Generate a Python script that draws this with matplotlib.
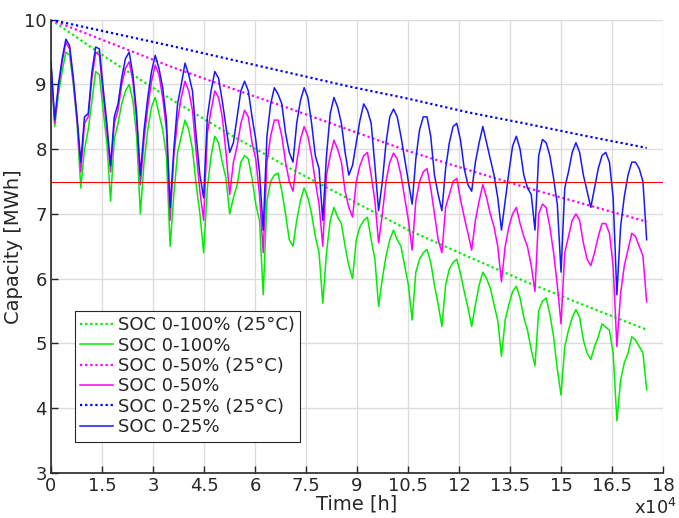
import numpy as np
import matplotlib
matplotlib.use("Agg")
import matplotlib.pyplot as plt

# ---- data (capacity in MWh, sampled every 1/8 year = 1095 h) ----
step_h = 1095
soc100 = [9.3, 8.35, 8.85, 9.2, 9.5, 9.45, 9.0, 8.4, 7.4, 8.0,
          8.3, 8.75, 9.2, 9.15, 8.6, 8.1, 7.2, 8.15, 8.4, 8.7,
          8.9, 9.0, 8.75, 8.2, 7.0, 7.8, 8.3, 8.65, 8.8, 8.55,
          8.3, 7.9, 6.5, 7.3, 7.95, 8.2, 8.45, 8.3, 8.0, 7.45,
          7.0, 6.4, 7.4, 7.9, 8.2, 8.1, 7.8, 7.55, 7.0, 7.25,
          7.45, 7.8, 7.9, 7.85, 7.55, 7.15, 6.9, 5.75, 7.2, 7.5,
          7.6, 7.63, 7.35, 7.0, 6.6, 6.5, 6.9, 7.2, 7.4, 7.25,
          7.0, 6.65, 6.4, 5.62, 6.4, 6.9, 7.1, 6.95, 6.85, 6.5,
          6.2, 6.0, 6.6, 6.8, 6.9, 6.95, 6.6, 6.3, 5.57, 6.0,
          6.35, 6.6, 6.75, 6.6, 6.5, 6.2, 5.9, 5.36, 6.1, 6.3,
          6.4, 6.45, 6.25, 5.9, 5.6, 5.26, 5.9, 6.15, 6.25, 6.3,
          6.08, 5.8, 5.55, 5.26, 5.6, 5.9, 6.1, 6.0, 5.85, 5.6,
          5.35, 4.8, 5.36, 5.6, 5.8, 5.88, 5.7, 5.4, 5.2, 4.9,
          4.65, 5.5, 5.65, 5.7, 5.45, 5.1, 4.6, 4.2, 4.95, 5.2,
          5.4, 5.52, 5.4, 5.05, 4.85, 4.75, 4.95, 5.1, 5.3, 5.25,
          5.2, 4.85, 3.8, 4.43, 4.7, 4.85, 5.1, 5.05, 4.95, 4.85,
          4.28]
soc50 = [9.3, 8.4, 8.95, 9.35, 9.65, 9.55, 9.05, 8.45, 7.65, 8.4,
         8.5, 9.1, 9.5, 9.45, 8.85, 8.3, 7.65, 8.4, 8.6, 9.0,
         9.25, 9.35, 9.05, 8.45, 7.45, 8.15, 8.65, 9.05, 9.3, 9.15,
         8.8, 8.3, 6.9, 7.9, 8.45, 8.8, 9.05, 8.9, 8.6, 7.95,
         7.35, 6.9, 8.25, 8.6, 8.9, 8.8, 8.5, 7.95, 7.3, 7.8,
         8.05, 8.4, 8.6, 8.5, 8.1, 7.85, 7.3, 6.4, 7.8, 8.2,
         8.45, 8.45, 8.2, 7.8, 7.5, 7.35, 7.8, 8.15, 8.35, 8.2,
         7.9, 7.5, 7.15, 6.5, 7.6, 7.9, 8.14, 8.0, 7.8, 7.35,
         7.1, 6.95, 7.5, 7.75, 7.9, 7.95, 7.6, 7.2, 6.55, 7.0,
         7.5, 7.8, 7.94, 7.85, 7.6, 7.25, 6.9, 6.44, 7.2, 7.5,
         7.65, 7.7, 7.4, 7.0, 6.6, 6.4, 7.1, 7.3, 7.5, 7.55,
         7.22, 6.95, 6.7, 6.44, 6.9, 7.2, 7.45, 7.25, 7.0, 6.8,
         6.5, 5.95, 6.5, 6.8, 7.0, 7.1, 6.85, 6.65, 6.49, 6.2,
         5.8, 7.0, 7.15, 7.1, 6.8, 6.4, 5.9, 5.3, 6.4, 6.65,
         6.9, 7.0, 6.9, 6.55, 6.3, 6.2, 6.4, 6.65, 6.85, 6.85,
         6.7, 6.2, 4.95, 5.77, 6.2, 6.45, 6.7, 6.65, 6.5, 6.35,
         5.64]
soc25 = [9.35, 8.45, 9.0, 9.4, 9.7, 9.6, 9.1, 8.5, 7.8, 8.5,
         8.55, 9.2, 9.58, 9.55, 8.95, 8.4, 7.75, 8.5, 8.7, 9.1,
         9.4, 9.5, 9.15, 8.55, 7.6, 8.3, 8.8, 9.2, 9.45, 9.25,
         8.95, 8.45, 7.1, 8.0, 8.7, 9.0, 9.33, 9.15, 8.9, 8.2,
         7.6, 7.25, 8.5, 8.9, 9.2, 9.1, 8.75, 8.35, 7.95, 8.1,
         8.5, 8.9, 9.05, 8.9, 8.5, 8.15, 7.65, 6.75, 8.2, 8.7,
         8.95, 8.85, 8.7, 8.25, 7.95, 7.8, 8.4, 8.75, 8.95, 8.8,
         8.4, 7.9, 7.7, 6.9, 7.9, 8.55, 8.8, 8.65, 8.4, 7.95,
         7.6, 7.75, 8.1, 8.45, 8.7, 8.6, 8.4, 7.75, 7.05, 7.5,
         8.1, 8.5, 8.62, 8.5, 8.2, 7.85, 7.5, 7.15, 7.85, 8.3,
         8.5, 8.5, 8.2, 7.6, 7.3, 7.05, 7.7, 8.1, 8.35, 8.4,
         8.14, 7.7, 7.45, 7.35, 7.8, 8.1, 8.35, 8.1, 7.85, 7.6,
         7.25, 6.75, 7.2, 7.65, 8.05, 8.2, 8.0, 7.6, 7.4, 7.3,
         6.75, 7.9, 8.15, 8.1, 7.9, 7.55, 7.15, 6.1, 7.4, 7.65,
         7.95, 8.1, 7.95, 7.6, 7.35, 7.1, 7.4, 7.7, 7.9, 7.95,
         7.8, 7.25, 5.75, 6.8, 7.27, 7.6, 7.8, 7.8, 7.7, 7.5,
         6.6]

# 25 degC reference curves, sampled every 2 years (17520 h)
ref_step_h = 17520
ref100 = [10.0, 9.37, 8.78, 8.23, 7.71, 7.23, 6.75, 6.34, 5.94, 5.57, 5.21]
ref50 = [10.0, 9.64, 9.28, 8.95, 8.63, 8.30, 7.97, 7.68, 7.40, 7.14, 6.88]
ref25 = [10.0, 9.80, 9.60, 9.39, 9.18, 8.97, 8.78, 8.57, 8.39, 8.20, 8.02]

threshold = 7.5
xtick_labels = ["0", "1.5", "3", "4.5", "6", "7.5", "9", "10.5", "12",
                "13.5", "15", "16.5", "18"]
ytick_vals = [3, 4, 5, 6, 7, 8, 9, 10]
legend_labels = ["SOC 0-100% (25°C)", "SOC 0-100%", "SOC 0-50% (25°C)",
                 "SOC 0-50%", "SOC 0-25% (25°C)", "SOC 0-25%"]

# ---- plot ----
plt.rcParams["font.family"] = ["DejaVu Sans"]
txt = "#262626"
fig = plt.figure(figsize=(6.79, 5.18), dpi=100)
ax = fig.add_axes([0.0751, 0.0875, 0.9013, 0.8743])

t = np.arange(len(soc25)) * step_h
tr = np.arange(len(ref25)) * ref_step_h

G, M, B = "#00ee00", "#ff00ff", "#0000ff"
lw_ref, lw = 1.6, 1.1
ax.plot(tr, ref100, ls=(0, (1, 1.3)), color=G, lw=lw_ref, label=legend_labels[0])
ax.plot(t, soc100, color=G, lw=lw, label=legend_labels[1])
ax.plot(tr, ref50, ls=(0, (1, 1.3)), color=M, lw=lw_ref, label=legend_labels[2])
ax.plot(t, soc50, color=M, lw=lw, label=legend_labels[3])
ax.plot(tr, ref25, ls=(0, (1, 1.3)), color=B, lw=lw_ref, label=legend_labels[4])
ax.plot(t, soc25, color="#1818ff", lw=lw, label=legend_labels[5])
ax.axhline(threshold, color="#ff0000", lw=0.8)

xt = np.arange(len(xtick_labels)) * 15000
ax.set_xticks(xt)
ax.set_xticklabels(xtick_labels)
ax.set_yticks(ytick_vals)
ax.set_xlim(0, 180000)
ax.set_ylim(3, 10)
ax.grid(True, color="#dcdcdc", lw=1.0)
ax.set_axisbelow(True)
for s in ["top", "right"]:
    ax.spines[s].set_visible(False)
for s in ["left", "bottom"]:
    ax.spines[s].set_color(txt)
    ax.spines[s].set_linewidth(1.2)
ax.tick_params(direction="in", length=5, width=1.0, colors=txt, labelsize=13,
               pad=3)
ax.set_xlabel("Time [h]", fontsize=14, color=txt, labelpad=0)
ax.set_ylabel("Capacity [MWh]", fontsize=14, color=txt, labelpad=1)
fig.text(0.997, 0.008, r"x10$^4$", ha="right", va="baseline", fontsize=13, color=txt)

leg = ax.legend(loc="upper left", bbox_to_anchor=(0.039, 0.357), borderaxespad=0,
                fontsize=13, frameon=True, fancybox=False, framealpha=1,
                edgecolor="#262626", handlelength=1.8, handletextpad=0.3,
                labelspacing=0.13, borderpad=0.3)
leg.get_frame().set_linewidth(0.8)
for tx in leg.get_texts():
    tx.set_color(txt)

fig.savefig("out.png", dpi=100)
